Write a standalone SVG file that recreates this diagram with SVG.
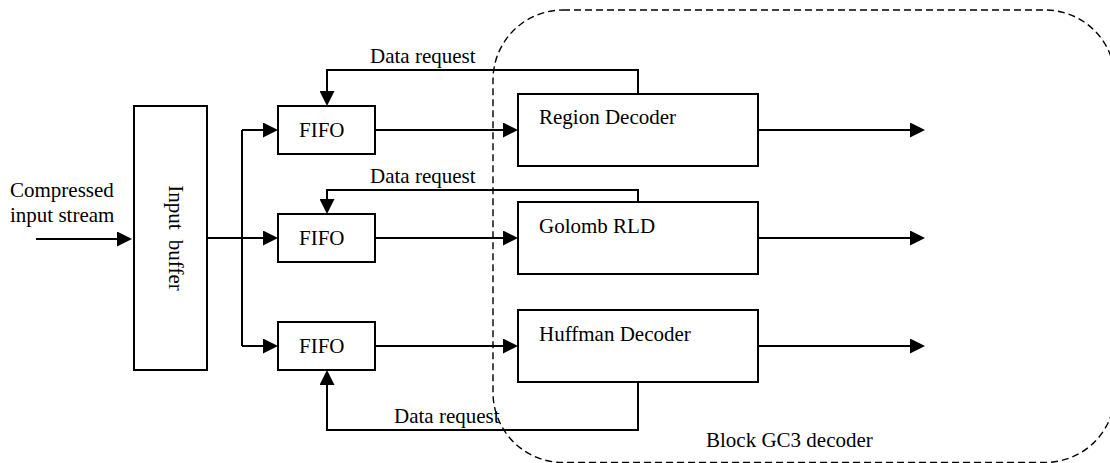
<svg xmlns="http://www.w3.org/2000/svg" width="1110" height="463" viewBox="0 0 1110 463">
<style>
text{font-family:"Liberation Serif","Times New Roman",serif;font-size:21px;fill:#000}
.box{fill:#fff;stroke:#000;stroke-width:2}
.ln{fill:none;stroke:#000;stroke-width:2}
.arr{fill:none;stroke:#000;stroke-width:2;marker-end:url(#ah)}
</style>
<defs>
<marker id="ah" markerUnits="userSpaceOnUse" markerWidth="15" markerHeight="15" refX="10" refY="7.5" orient="auto">
<path d="M0,0 L15,7.5 L0,15 Z" fill="#000"/>
</marker>
</defs>
<rect id="gc3-boundary" x="493" y="10" width="622" height="452.5" rx="70" ry="70" fill="none" stroke="#000" stroke-width="1.4" stroke-dasharray="7,4"/>
<g id="connectors">
<path class="arr" d="M36,239 H127"/>
<path class="ln" d="M207,238 H242 M242,130 V346"/>
<path class="arr" d="M242,130 H273"/>
<path class="arr" d="M242,238 H273"/>
<path class="arr" d="M242,346 H273"/>
<path class="arr" d="M375,130 H513"/>
<path class="arr" d="M375,238 H513"/>
<path class="arr" d="M375,346 H513"/>
<path class="arr" d="M758,130 H920"/>
<path class="arr" d="M758,238 H920"/>
<path class="arr" d="M758,346 H920"/>
<path class="arr" d="M638,94 V70 H327 V101"/>
<path class="arr" d="M638,202 V190 H327 V209"/>
<path class="arr" d="M638,382 V430 H327 V375"/>
<text x="370" y="63">Data request</text>
<text x="370" y="183">Data request</text>
<text x="394" y="423">Data request</text>
</g>
<g id="input-label">
<text x="10" y="197">Compressed</text>
<text x="10" y="222">input stream</text>
</g>
<g id="input-buffer">
<rect class="box" x="134" y="106" width="73" height="264"/>
<text transform="translate(169,238) rotate(90)" text-anchor="middle" word-spacing="5">Input buffer</text>
</g>
<g id="fifo1">
<rect class="box" x="278" y="106" width="97" height="48"/>
<text x="299" y="137">FIFO</text>
</g>
<g id="fifo2">
<rect class="box" x="278" y="214" width="97" height="48"/>
<text x="299" y="245">FIFO</text>
</g>
<g id="fifo3">
<rect class="box" x="278" y="322" width="97" height="48"/>
<text x="299" y="353">FIFO</text>
</g>
<g id="region-decoder">
<rect class="box" x="518" y="94" width="240" height="72"/>
<text x="539" y="124">Region Decoder</text>
</g>
<g id="golomb-rld">
<rect class="box" x="518" y="202" width="240" height="72"/>
<text x="539" y="233">Golomb RLD</text>
</g>
<g id="huffman-decoder">
<rect class="box" x="518" y="310" width="240" height="72"/>
<text x="539" y="341">Huffman Decoder</text>
</g>
<g id="gc3-label">
<text x="706" y="447">Block GC3 decoder</text>
</g>
</svg>
